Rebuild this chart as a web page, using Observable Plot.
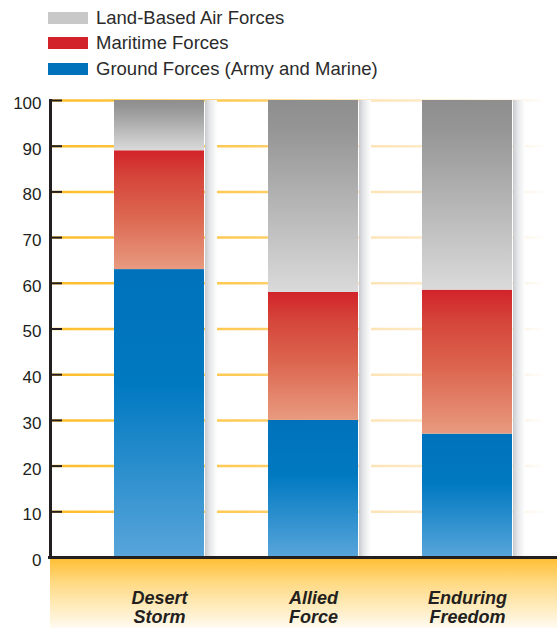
<!DOCTYPE html>
<html>
<head>
<meta charset="utf-8">
<script src="https://cdn.jsdelivr.net/npm/d3@7"></script>
<script src="https://cdn.jsdelivr.net/npm/@observablehq/plot@0.6"></script>
<style>
  html, body { margin: 0; padding: 0; background: #fff; }
  body { width: 557px; height: 628px; overflow: hidden; font-family: "Liberation Sans", Arial, Helvetica, sans-serif; }
  #legend { position: relative; height: 90px; }
  .item { position: absolute; left: 48px; height: 20px; display: flex; align-items: center; }
  .swatch { width: 40px; height: 12px; margin-right: 8px; }
  .label { font-size: 18.5px; color: #2b2b2b; white-space: nowrap; }
</style>
</head>
<body>
<div id="legend"></div>
<div id="chart"></div>
<script>
// Share of combat power by component in three operations (percent)
const operations = ["Desert Storm", "Allied Force", "Enduring Freedom"];
const operationLabels = ["Desert\nStorm", "Allied\nForce", "Enduring\nFreedom"];
const groundForces = [63, 30, 27];
const maritimeForces = [26, 28, 31.5];
const airForces = [11, 42, 41.5];
const seriesNames = ["Ground Forces (Army and Marine)", "Maritime Forces", "Land-Based Air Forces"];
const seriesColors = ["#0072BC", "#D2232A", "#C8C8C8"];
const legendOrder = ["Land-Based Air Forces", "Maritime Forces", "Ground Forces (Army and Marine)"];
const yTicks = [0, 10, 20, 30, 40, 50, 60, 70, 80, 90, 100];
const gridTicks = [10, 20, 30, 40, 50, 60, 70, 80, 90, 100];

// gradient ids for each series
const seriesFills = ["url(#gradGround)", "url(#gradMaritime)", "url(#gradAir)"];

const seriesValues = [groundForces, maritimeForces, airForces];
const rows = [];
operations.forEach((op, i) => {
  seriesNames.forEach((s, j) => {
    rows.push({operation: op, series: s, value: seriesValues[j][i], fill: seriesFills[j]});
  });
});
const totals = operations.map((op, i) => ({
  operation: op,
  total: groundForces[i] + maritimeForces[i] + airForces[i]
}));

// legend
const legend = d3.select("#legend");
legendOrder.forEach((name, k) => {
  const item = legend.append("div").attr("class", "item").style("top", (8 + k * 25.3) + "px");
  item.append("div").attr("class", "swatch").style("background", seriesColors[seriesNames.indexOf(name)]);
  item.append("div").attr("class", "label").text(name);
});

const W = 557, H = 538, mL = 50, mT = 10, mB = 71;
const plotWidth = W - mL;

const chart = Plot.plot({
  width: W,
  height: H,
  marginLeft: mL,
  marginRight: 0,
  marginTop: mT,
  marginBottom: mB,
  style: {fontFamily: "'Liberation Sans', Arial, Helvetica, sans-serif", color: "#231F20", overflow: "visible"},
  x: {domain: operations, range: [49, 577], paddingInner: 0.413, paddingOuter: 0.413, axis: null, label: null},
  y: {domain: [0, 100], axis: null, label: null},
  color: {type: "identity"},
  marks: [
    Plot.ruleY(gridTicks, {stroke: "url(#gradGrid)", strokeWidth: 2.5}),
    Plot.barY(totals, {x: "operation", y: "total", fill: "url(#gradShadow)", dx: 91, insetRight: 78}),
    Plot.barY(rows, Plot.stackY({x: "operation", y: "value", z: "series", fill: "fill", order: null})),
    Plot.ruleY(gridTicks, {stroke: "#231F20", strokeWidth: 2, insetRight: plotWidth - 12}),
    Plot.axisY(yTicks, {anchor: "left", tickSize: 0, tickPadding: 9, fontSize: 17, dy: 3, fill: "#231F20", label: null}),
    Plot.axisX({
      tickSize: 0, tickPadding: 32, fontSize: 18, fontWeight: "bold", fontStyle: "italic",
      lineHeight: 1.1, fill: "#231F20", label: null,
      tickFormat: d => operationLabels[operations.indexOf(d)]
    }),
    Plot.ruleY([0], {stroke: "#231F20", strokeWidth: 3, insetLeft: -2}),
    Plot.frame({anchor: "left", stroke: "#231F20", strokeWidth: 3})
  ]
});

// gradients and the warm band beneath the baseline
const svg = d3.select(chart);
const defs = svg.insert("defs", ":first-child");
function vgrad(id, stops) {
  const g = defs.append("linearGradient").attr("id", id)
    .attr("x1", 0).attr("y1", 0).attr("x2", 0).attr("y2", 1);
  stops.forEach(([o, c]) => g.append("stop").attr("offset", o).attr("stop-color", c));
}
vgrad("gradAir", [[0, "#8E8E8E"], [0.15, "#959595"], [1, "#DADADA"]]);
vgrad("gradMaritime", [[0, "#D2232A"], [0.22, "#D5453A"], [0.55, "#DC6650"], [1, "#E89B80"]]);
vgrad("gradGround", [[0, "#0072BC"], [0.4, "#0079C1"], [1, "#58A5DA"]]);
vgrad("gradBand", [[0, "#FFBF35"], [0.35, "#FFDA85"], [1, "#FFFCF4"]]);

const sh = defs.append("linearGradient").attr("id", "gradShadow")
  .attr("x1", 0).attr("y1", 0).attr("x2", 1).attr("y2", 0);
[[0, "#C9CACE"], [0.4, "#E6E7E9"], [1, "#FFFFFF"]].forEach(([o, c]) =>
  sh.append("stop").attr("offset", o).attr("stop-color", c));

const gg = defs.append("linearGradient").attr("id", "gradGrid")
  .attr("gradientUnits", "userSpaceOnUse")
  .attr("x1", mL).attr("y1", 0).attr("x2", W - 12).attr("y2", 0);
[[0, "#FFBE2A"], [0.4, "#FFCB5A"], [0.65, "#FDE4B6"], [0.95, "#FDF3E3"], [1, "#FFFFFF"]].forEach(([o, c]) =>
  gg.append("stop").attr("offset", o).attr("stop-color", c));

svg.insert("rect", "defs + *")
  .attr("x", mL).attr("y", H - mB + 1.5)
  .attr("width", plotWidth).attr("height", mB)
  .attr("fill", "url(#gradBand)");

document.getElementById("chart").appendChild(chart);
</script>
</body>
</html>
